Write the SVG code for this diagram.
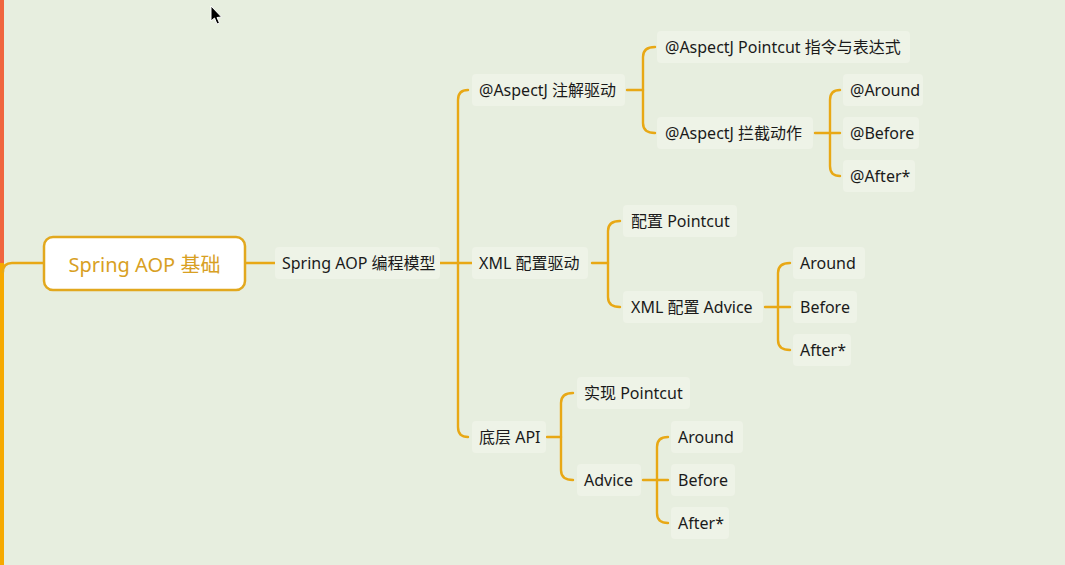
<svg xmlns="http://www.w3.org/2000/svg" width="1065" height="565" viewBox="0 0 1065 565">
<style>
.lbl{fill:#EEF3E7;}
.t{font-family:"Noto Sans","Noto Sans CJK SC",sans-serif;font-size:16px;fill:#1a1a1a;dominant-baseline:central;}
.c{fill:none;stroke:#E8A815;stroke-width:2.4;stroke-linecap:round;}
</style>
<rect x="0" y="0" width="1065" height="565" fill="#E7EEDF"/>
<rect x="0" y="0" width="4" height="263" fill="#F0653E"/>
<rect x="0" y="263" width="4" height="302" fill="#F6A900"/>
<g id="connectors">
<path class="c" d="M3 272 Q3 263 12 263 L44 263"/>
<path class="c" d="M245 263 L275 263"/>
<path class="c" d="M440 263 L472 263"/>
<path class="c" d="M468 90 Q458 90 458 100 L458 427 Q458 437 468 437"/>
<path class="c" d="M627 90 L643 90"/>
<path class="c" d="M655 47 Q643 47 643 57 L643 123 Q643 133 655 133"/>
<path class="c" d="M815 133 L840 133"/>
<path class="c" d="M840 90 Q830 90 830 100 L830 166 Q830 176 840 176"/>
<path class="c" d="M592 263 L608 263"/>
<path class="c" d="M620 221 Q608 221 608 231 L608 297 Q608 307 620 307"/>
<path class="c" d="M765 307 L790 307"/>
<path class="c" d="M790 263 Q778 263 778 273 L778 340 Q778 350 790 350"/>
<path class="c" d="M547 437 L561 437"/>
<path class="c" d="M573 393 Q561 393 561 403 L561 470 Q561 480 573 480"/>
<path class="c" d="M643 480 L668 480"/>
<path class="c" d="M668 437 Q657 437 657 447 L657 513 Q657 523 668 523"/>
</g>
<g id="root">
<rect x="44" y="237" width="201" height="53" rx="9" fill="#FFFFFF" stroke="#E2A81E" stroke-width="2.5"/>
<text x="144.5" y="264" text-anchor="middle" font-family="Noto Sans, Noto Sans CJK SC, sans-serif" font-size="20" fill="#D8A023" dominant-baseline="central">Spring AOP 基础</text>
</g>
<g id="n-model"><rect class="lbl" x="275" y="247" width="165" height="32" rx="4"/><text class="t" x="282" y="263">Spring AOP 编程模型</text></g>
<g id="n-aspectj"><rect class="lbl" x="472" y="74" width="153" height="32" rx="4"/><text class="t" x="479" y="90">@AspectJ 注解驱动</text></g>
<g id="n-pointcut-expr"><rect class="lbl" x="657" y="31" width="253" height="32" rx="4"/><text class="t" x="665" y="47">@AspectJ Pointcut 指令与表达式</text></g>
<g id="n-intercept"><rect class="lbl" x="657" y="117" width="156" height="32" rx="4"/><text class="t" x="665" y="133">@AspectJ 拦截动作</text></g>
<g id="n-at-around"><rect class="lbl" x="843" y="74" width="80" height="32" rx="4"/><text class="t" x="850" y="90">@Around</text></g>
<g id="n-at-before"><rect class="lbl" x="843" y="117" width="76" height="32" rx="4"/><text class="t" x="850" y="133">@Before</text></g>
<g id="n-at-after"><rect class="lbl" x="843" y="160" width="72" height="32" rx="4"/><text class="t" x="850" y="176">@After*</text></g>
<g id="n-xml"><rect class="lbl" x="472" y="247" width="116" height="32" rx="4"/><text class="t" x="479" y="263">XML 配置驱动</text></g>
<g id="n-xml-pointcut"><rect class="lbl" x="623" y="205" width="114" height="32" rx="4"/><text class="t" x="631" y="221">配置 Pointcut</text></g>
<g id="n-xml-advice"><rect class="lbl" x="623" y="291" width="140" height="32" rx="4"/><text class="t" x="631" y="307">XML 配置 Advice</text></g>
<g id="n-xml-around"><rect class="lbl" x="793" y="247" width="72" height="32" rx="4"/><text class="t" x="800" y="263">Around</text></g>
<g id="n-xml-before"><rect class="lbl" x="793" y="291" width="64" height="32" rx="4"/><text class="t" x="800" y="307">Before</text></g>
<g id="n-xml-after"><rect class="lbl" x="793" y="334" width="58" height="32" rx="4"/><text class="t" x="800" y="350">After*</text></g>
<g id="n-api"><rect class="lbl" x="472" y="421" width="74" height="32" rx="4"/><text class="t" x="479" y="437">底层 API</text></g>
<g id="n-api-pointcut"><rect class="lbl" x="577" y="377" width="113" height="32" rx="4"/><text class="t" x="584" y="393">实现 Pointcut</text></g>
<g id="n-api-advice"><rect class="lbl" x="577" y="464" width="64" height="32" rx="4"/><text class="t" x="584" y="480">Advice</text></g>
<g id="n-api-around"><rect class="lbl" x="671" y="421" width="72" height="32" rx="4"/><text class="t" x="678" y="437">Around</text></g>
<g id="n-api-before"><rect class="lbl" x="671" y="464" width="64" height="32" rx="4"/><text class="t" x="678" y="480">Before</text></g>
<g id="n-api-after"><rect class="lbl" x="671" y="507" width="58" height="32" rx="4"/><text class="t" x="678" y="523">After*</text></g>
<polygon points="211,6 211,21 214.5,18 217,24 219.5,23 217,17.5 221.5,17" fill="#000" stroke="#fff" stroke-width="1"/>
</svg>
